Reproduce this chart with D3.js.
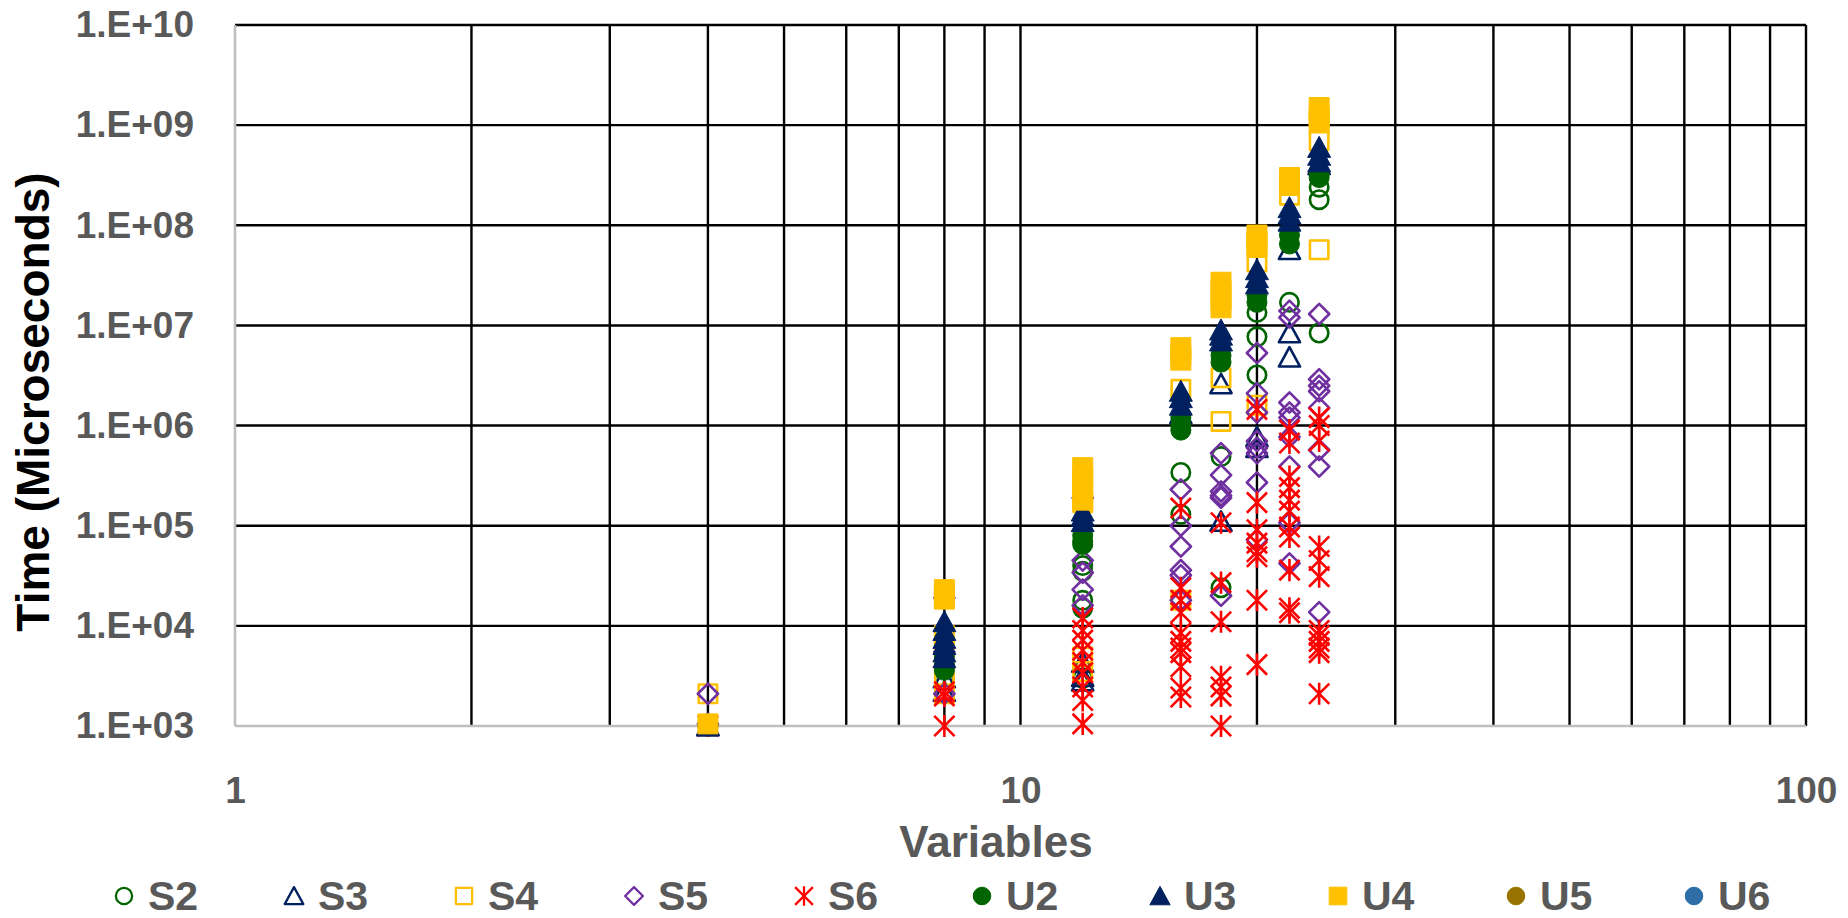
<!DOCTYPE html>
<html>
<head>
<meta charset="utf-8">
<script src="https://cdn.jsdelivr.net/npm/d3@7"></script>
<style>
	body { margin: 0; background: #fff; }
	svg { display: block; font-family: "Liberation Sans", Arial, sans-serif; font-weight: bold; }
</style>
</head>
<body>
<svg width="1848" height="918"></svg>
<script>
// Data: one list of times (microseconds) per number of variables.
const xValues = [4, 8, 12, 16, 18, 20, 22, 24];

const S2 = [[1e3], [4e3, 3e3], [4e4, 3.5e4, 1.8e4, 1.5e4, 3e3], [3.4e5, 1.3e5], [4.9e5, 2.4e4],
	[1.35e7, 7.7e6, 3.2e6], [1.7e7], [2.4e8, 1.8e8, 8.4e6]];
const S3 = [[1e3], [3e3, 2.2e3], [4.3e3, 3.1e3, 2.8e3], [1.3e6], [2.6e6, 1.1e5],
	[7.7e5, 6e5], [5.7e7, 8.4e6, 4.8e6], [4e8]];
const S4 = [[2.1e3], [8e3, 6e3, 3e3, 2.1e3], [1.7e5, 4.9e3, 3.5e3], [2.3e6, 1.8e4], [3e6, 1.1e6],
	[4.3e7, 1.6e6], [2e8], [7e8, 5.7e7]];
const S5 = [[2.1e3, 1.05e3], [1.9e4, 5.5e3, 2.1e3], [1.9e5, 4.5e4, 3.4e4, 2.3e4, 1.6e4],
	[2.3e5, 1e5, 6.2e4, 3.6e4, 3.2e4, 1.8e4], [5.3e5, 3.2e5, 2.2e5, 2e5, 1.9e5, 2e4],
	[5.3e6, 2.1e6, 1.35e6, 7e5, 6e5, 5.3e5, 2.7e5, 7.2e4],
	[1.4e7, 1.2e7, 1.7e6, 1.35e6, 1.2e6, 7.7e5, 3.9e5, 1.07e5, 4.2e4],
	[1.3e7, 2.9e6, 2.5e6, 2.2e6, 1.5e6, 5.7e5, 3.9e5, 1.37e4]];
const S6 = [[1e3], [2.2e3, 2e3, 1e3], [1.2e4, 9e3, 7.2e3, 5.7e3, 4.3e3, 3.4e3, 2.45e3, 1.8e3, 1.05e3],
	[1.5e5, 2.4e4, 1.8e4, 1.35e4, 8.5e3, 7e3, 6e3, 5.4e3, 3.9e3, 2.4e3, 1.95e3],
	[1.07e5, 2.7e4, 1.1e4, 3.1e3, 2.45e3, 2e3, 1e3],
	[1.45e6, 1.7e5, 9.1e4, 6.7e4, 5.5e4, 4.9e4, 1.8e4, 4.1e3],
	[9e5, 6.7e5, 3.1e5, 2.4e5, 1.8e5, 1.4e5, 9.7e4, 7.7e4, 3.6e4, 1.5e4, 1.35e4],
	[1.2e6, 1e6, 7e5, 6.2e4, 4.5e4, 3.1e4, 9e3, 8e3, 7e3, 6e3, 5.4e3, 2.1e3]];
const U2 = [[1e3], [5e3, 4e3, 3.6e3], [8e4, 7e4, 6.5e4], [1.2e6, 1e6, 9e5], [5e6, 4.3e6],
	[2e7, 1.7e7], [8e7, 6.5e7], [3.3e8, 3e8]];
const U3 = [[1e3], [1.1e4, 9e3, 7.5e3, 6.5e3, 5.5e3, 4.8e3], [1.4e5, 1.25e5, 1.1e5], [2.2e6, 1.9e6, 1.6e6],
	[9e6, 8e6, 7e6], [3.6e7, 3e7, 2.6e7], [1.5e8, 1.3e8, 1.1e8], [6e8, 5e8, 4.3e8]];
const U4 = [[1.05e3], [2.3e4, 2e4, 1.85e4], [3.8e5, 3e5, 2.4e5, 1.8e5], [6e6, 5e6, 4.5e6],
	[2.7e7, 2.2e7, 1.8e7, 1.5e7], [8e7, 7e7, 6e7], [3e8, 2.5e8], [1.5e9, 1.2e9, 1.05e9]];
const U5 = [];	// in the legend only, no points visible
const U6 = [];

const seriesNames = ['S2', 'S3', 'S4', 'S5', 'S6', 'U2', 'U3', 'U4', 'U5', 'U6'];
const seriesValues = [S2, S3, S4, S5, S6, U2, U3, U4, U5, U6];
const yTicks = [1e3, 1e4, 1e5, 1e6, 1e7, 1e8, 1e9, 1e10];
const xTicks = [1, 10, 100];

// Marker look of each series (same order as seriesNames).
const shapes = ['circle', 'triangle', 'square', 'diamond', 'star', 'circle', 'triangle', 'square', 'circle', 'circle'];
const colors = ['#006400', '#002060', '#FFC000', '#7030A0', '#FF0000', '#006400', '#002060', '#FFC000', '#997300', '#2E6EA6'];
const filled = [false, false, false, false, false, true, true, true, true, true];

const plotLeft = 235, plotRight = 1806, plotTop = 25, plotBottom = 726;

const svg = d3.select('svg');
const x = d3.scaleLog().domain([1, 100]).range([plotLeft, plotRight]);
const y = d3.scaleLog().domain([1e3, 1e10]).range([plotBottom, plotTop]);

// marker path centred on 0,0, k scales it (legend uses smaller ones)
function markerPath(shape, k) {
	const r = 10 * k;
	switch (shape) {
		case 'circle':
			return `M${-r},0a${r},${r} 0 1,0 ${2 * r},0a${r},${r} 0 1,0 ${-2 * r},0Z`;
		case 'square':
			return `M${-r},${-r}H${r}V${r}H${-r}Z`;
		case 'triangle':
			return `M0,${-1.1 * r}L${1.15 * r},${r}L${-1.15 * r},${r}Z`;
		case 'diamond':
			return `M0,${-1.1 * r}L${1.1 * r},0L0,${1.1 * r}L${-1.1 * r},0Z`;
		case 'star':
			return `M${-1.1 * r},${-1.1 * r}L${1.1 * r},${1.1 * r}M${1.1 * r},${-1.1 * r}L${-1.1 * r},${1.1 * r}M0,${-1.2 * r}V${1.2 * r}`;
	}
}

function styleMarker(sel, i, k) {
	const hollowShrink = filled[i] ? 1 : 0.92;
	sel.attr('d', markerPath(shapes[i], k * hollowShrink))
		.attr('fill', filled[i] ? colors[i] : 'none')
		.attr('stroke', colors[i])
		.attr('stroke-width', filled[i] ? 1 : 2.6 * k)
		.attr('stroke-linejoin', 'round');
}

// ---------------------------------------------------------------------------------
// Grid: every decade across, 1..10 and 10..100 up.
const grid = svg.append('g');
const xGrid = d3.range(2, 10).concat(d3.range(10, 101, 10));
grid.append('g').selectAll('line').data(xGrid).join('line')
	.attr('x1', d => x(d)).attr('x2', d => x(d))
	.attr('y1', plotTop).attr('y2', plotBottom)
	.attr('stroke', '#000').attr('stroke-width', 2.4);
grid.append('g').selectAll('line').data(yTicks.slice(1)).join('line')
	.attr('x1', plotLeft).attr('x2', plotRight)
	.attr('y1', d => y(d)).attr('y2', d => y(d))
	.attr('stroke', '#000').attr('stroke-width', 2.4);

// grey axis lines
svg.append('line').attr('x1', plotLeft).attr('x2', plotLeft).attr('y1', plotTop).attr('y2', plotBottom)
	.attr('stroke', '#BFBFBF').attr('stroke-width', 2.6);
svg.append('line').attr('x1', plotLeft).attr('x2', plotRight).attr('y1', plotBottom).attr('y2', plotBottom)
	.attr('stroke', '#BFBFBF').attr('stroke-width', 2.6);

// Axes (labels only)
const yAxis = svg.append('g').attr('transform', `translate(${plotLeft},0)`)
	.call(d3.axisLeft(y).tickValues(yTicks).tickSize(0).tickPadding(41)
		.tickFormat(d => '1.E+' + String(Math.round(Math.log10(d))).padStart(2, '0')));
const xAxis = svg.append('g').attr('transform', `translate(0,${plotBottom})`)
	.call(d3.axisBottom(x).tickValues(xTicks).tickSize(0).tickFormat(d3.format('d')));
[yAxis, xAxis].forEach(a => {
	a.select('.domain').remove();
	a.attr('font-family', null).attr('font-size', null);
	a.selectAll('text').attr('fill', '#595959').style('font-size', '37px');
});
xAxis.selectAll('text').attr('y', 77).attr('dy', null);

// Titles
svg.append('text').attr('transform', 'translate(49,402) rotate(-90)')
	.attr('text-anchor', 'middle').attr('fill', '#000').style('font-size', '46px')
	.text('Time (Microseconds)');
svg.append('text').attr('x', 996).attr('y', 857)
	.attr('text-anchor', 'middle').attr('fill', '#595959').style('font-size', '44px')
	.text('Variables');

// ---------------------------------------------------------------------------------
// Points, series drawn in order so the U ones sit on top.
seriesValues.forEach((vals, i) => {
	const pts = [];
	vals.forEach((list, j) => list.forEach(v => pts.push([xValues[j], v])));
	svg.append('g').selectAll('path').data(pts).join('path')
		.attr('transform', d => `translate(${x(d[0])},${y(d[1])})`)
		.call(styleMarker, i, 1);
});

// Legend along the bottom
let lx = 124;
seriesNames.forEach((name, i) => {
	const g = svg.append('g').attr('transform', `translate(${lx},896)`);
	g.append('path').call(styleMarker, i, 0.88);
	g.append('text').attr('x', 24).attr('y', 14).attr('fill', '#595959')
		.style('font-size', '41px').text(name);
	lx += name[0] === 'S' && name !== 'S6' ? 170 : 178;
});
</script>
</body>
</html>
